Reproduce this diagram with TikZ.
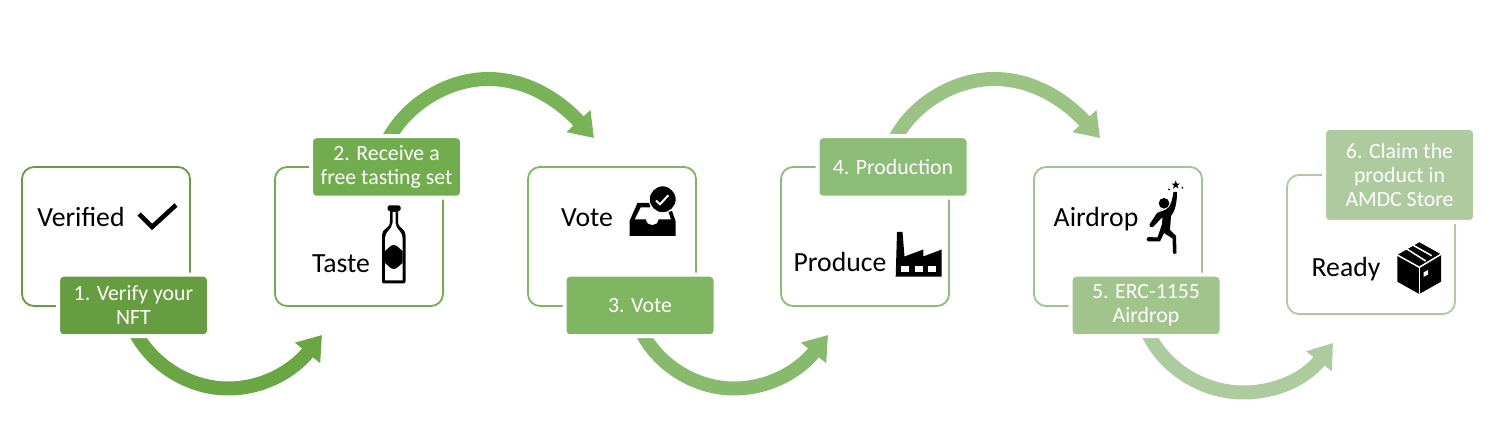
\documentclass[tikz,border=0pt]{standalone}
\usepackage{fontspec}
\setmainfont{Carlito}
\usetikzlibrary{arrows.meta,backgrounds}
\definecolor{lc1}{HTML}{669D40}
\definecolor{lc2}{HTML}{71AD4E}
\definecolor{lc3}{HTML}{80B661}
\definecolor{lc4}{HTML}{8CBC76}
\definecolor{lc5}{HTML}{A0C48B}
\definecolor{lc6}{HTML}{ADCB9F}
\definecolor{ac1}{HTML}{6AA644}
\definecolor{ac2}{HTML}{79B358}
\definecolor{ac3}{HTML}{87BA6C}
\definecolor{ac4}{HTML}{9BC384}
\definecolor{ac5}{HTML}{ACCB9F}
\tikzset{
  card/.style={draw=#1,line width=1.8pt,rounded corners=12pt,minimum width=168pt,minimum height=139pt,outer sep=0pt,inner sep=0pt},
  lab/.style={fill=#1,draw=white,line width=4pt,rounded corners=5pt,minimum width=151pt,minimum height=61.5pt,
    outer sep=0pt,inner sep=0pt,text=white,align=center,font=\fontsize{21.8pt}{24pt}\selectfont},
  word/.style={anchor=base,inner sep=0pt,outer sep=0pt,font=\fontsize{27.7pt}{30pt}\selectfont,text=black},
  flow/.style={draw=#1,line width=14pt,line cap=rect,-{Triangle[length=23pt,width=31pt]}},
  cutout/.style={draw=white,line width=1.5pt,line cap=butt}
}
\begin{document}
\begin{tikzpicture}[x=1pt,y=-1pt]
\useasboundingbox (0,0) rectangle (1493,435);
% cards
\node[card=lc1] (b1) at (106,236.5) {};
\node[card=lc2] (b2) at (359,236.5) {};
\node[card=lc3] (b3) at (612,236.5) {};
\node[card=lc4] (b4) at (865,236.5) {};
\node[card=lc5] (b5) at (1118,236.5) {};
\node[card=lc6] (b6) at (1371,244.5) {};
% card words
\node[word] (w1) at (81,227) {Verified};
\node[word] (w2) at (341,272.5) {Taste};
\node[word] (w3) at (587,226.5) {Vote};
\node[word] (w4) at (840,271.5) {Produce};
\node[word] (w5) at (1096,226.5) {Airdrop};
\node[word] (w6) at (1346,277) {Ready};
% step labels
\node[lab=lc1] (l1) at (133.5,305.5) {1. Verify your\\NFT};
\node[lab=lc2] (l2) at (386.5,167) {\raisebox{-1.5pt}{2. Receive a}\\\raisebox{-1.5pt}{free tasting set}};
\node[lab=lc3] (l3) at (640,305.5) {3. Vote};
\node[lab=lc4] (l4) at (893,167) {4. Production};
\node[lab=lc5] (l5) at (1146,305.5) {5. ERC-1155\\Airdrop};
\node[lab=lc6,minimum height=94pt] (l6) at (1399.5,175) {6. Claim the\\product in\\AMDC Store};
% arrow ends
\coordinate (e1) at (322,335);
\coordinate (e2) at (594,138);
\coordinate (e3) at (828,335);
\coordinate (e4) at (1100,138);
\coordinate (e5) at (1333,343);
% block arrows
\begin{scope}[on background layer]
\draw[flow=ac1] ([xshift=4pt]l1.south) .. controls (156,368) and (192,388.5) .. (228,388.5) .. controls (262,388.5) and (292,372) .. (e1);
\draw[flow=ac2] ([xshift=3.5pt]l2.north) .. controls (409,103) and (449,79) .. (488,79) .. controls (528,79) and (560,101) .. (e2);
\draw[flow=ac3] ([xshift=4pt]l3.south) .. controls (662,368) and (698,388.5) .. (734,388.5) .. controls (768,388.5) and (798,372) .. (e3);
\draw[flow=ac4] ([xshift=3.5pt]l4.north) .. controls (915,103) and (955,79) .. (994,79) .. controls (1034,79) and (1066,101) .. (e4);
\draw[flow=ac5] ([xshift=3.5pt]l5.south) .. controls (1168,372) and (1207,392.5) .. (1243,392.5) .. controls (1277,392.5) and (1306,378) .. (e5);
\end{scope}
% check icon
\draw[line width=4.6pt,black] (139,214) -- (152,227) -- (176,205);
% bottle icon
\fill[rounded corners=1.5pt] (387.5,205.5) rectangle (400.5,211);
\fill[rounded corners=2pt] (390,209) -- (390,222) .. controls (389,228) and (382,229) .. (382,237) -- (382,283.5) -- (405.5,283.5) -- (405.5,237) .. controls (405.5,229) and (399,228) .. (398,222) -- (398,209) -- cycle;
\fill[white] (392.5,212) -- (392.5,223) .. controls (392,230) and (385,231) .. (385,238) -- (385,280.5) -- (402.5,280.5) -- (402.5,238) .. controls (402.5,231) and (396,230) .. (395.5,223) -- (395.5,212) -- cycle;
\fill (385,251) .. controls (388,249) and (390,245) .. (393.7,245) .. controls (397.5,245) and (399.5,249) .. (402.5,251) -- (402.5,263) .. controls (399.5,265) and (397.5,269) .. (393.7,269) .. controls (390,269) and (388,265) .. (385,263) -- cycle;
% inbox icon
\fill (629.5,236) -- (629.5,221) -- (637.5,203) -- (650,203) -- (650,207.5) -- (640.5,207.5) -- (634.5,219.5) -- (646,219.5) .. controls (646.5,227) and (658,227) .. (658.5,219.5) -- (671,219.5) -- (668.5,212) -- (672,211) -- (675.5,221) -- (675.5,236) -- cycle;
\filldraw[fill=black,draw=white,line width=1pt] (662.7,199.3) circle[radius=13.5];
\draw[white,line width=2pt] (656,200.7) -- (660,204.3) -- (668.3,195.3);
% factory icon
\fill (895.7,276.7) -- (897,232) -- (902.5,232) -- (904.5,256.5) -- (923.3,249.5) -- (923.3,256.5) -- (941.7,249.5) -- (941.7,276.7) -- cycle;
\fill[white] (901,266) rectangle (909.3,271.7);
\fill[white] (915,266) rectangle (922.7,271.7);
\fill[white] (928.3,266) rectangle (936,271.7);
% jumping figure icon
\fill (1164,203.3) circle[radius=5.3];
\fill (1166,209.5) .. controls (1171,207) and (1172,200) .. (1173.5,192) -- (1177,192) .. controls (1177,203) and (1175,211) .. (1171,216) -- (1170,230) -- (1176,236) -- (1176.5,253) .. controls (1175.5,254.5) and (1173.5,254.5) .. (1173,253) -- (1172.5,238.5) -- (1164,233) -- (1160,241.5) -- (1148,241.5) .. controls (1146,240.5) and (1146,238) .. (1148,237) -- (1157.5,237.5) -- (1162,224) -- (1162.5,217) -- (1153,227) .. controls (1151,228) and (1149,226.5) .. (1149.5,224.5) -- (1157,213) -- cycle;
\fill (1175.7,180.5) -- (1176.8,183.6) -- (1180,183.6) -- (1177.4,185.5) -- (1178.4,188.6) -- (1175.7,186.7) -- (1173,188.6) -- (1174,185.5) -- (1171.4,183.6) -- (1174.6,183.6) -- cycle;
\fill (1169,189.3) circle[radius=1];
\fill (1182.3,187.7) circle[radius=1];
% package icon
\fill (1419.3,242.3) -- (1441,254.3) -- (1441,281.7) -- (1419.3,294) -- (1397.3,281.7) -- (1397.3,255) -- cycle;
\draw[cutout] (1397.3,255) -- (1419.3,267.3) -- (1441,254.3);
\draw[cutout] (1419.3,267.3) -- (1419.3,294);
\draw[cutout] (1411,244) -- (1431.7,255.7);
\draw[cutout] (1405.7,248.3) -- (1425.7,261);
\fill[white] (1423.5,272.5) -- (1428,270) -- (1428,274.5) -- (1423.5,277) -- cycle;
\end{tikzpicture}
\end{document}
